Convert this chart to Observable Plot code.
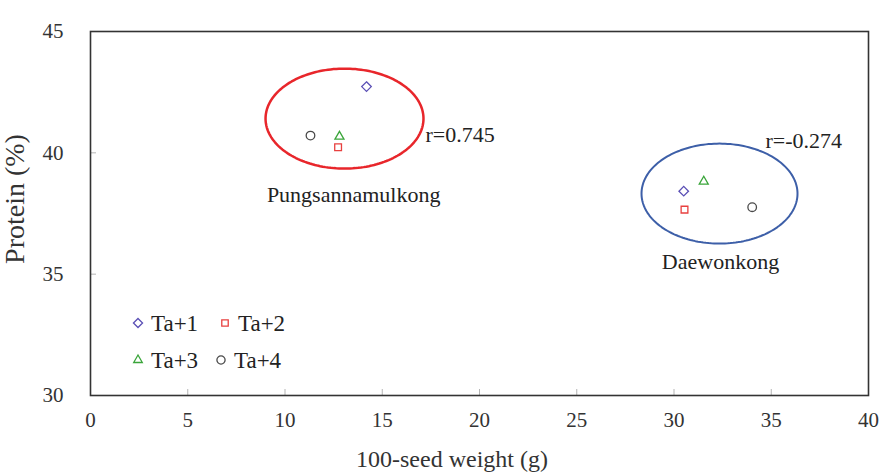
<!DOCTYPE html>
<html>
<head>
<meta charset="utf-8">
<script src="https://cdn.jsdelivr.net/npm/d3@7"></script>
<script src="https://cdn.jsdelivr.net/npm/@observablehq/plot@0.6"></script>
<style>
  html, body { margin: 0; padding: 0; background: #fff; }
  #chart { position: relative; width: 887px; height: 472px; }
</style>
</head>
<body>
<div id="chart"></div>
<script>
// ---- data ----
const series = ["Ta+1", "Ta+2", "Ta+3", "Ta+4"];
const seriesSymbols = ["diamond2", "square2", "triangle2", "circle"];
const seriesColors = ["#5a4fb5", "#e8403f", "#3aa53a", "#4a4a4a"];

const cultivars = ["Pungsannamulkong", "Daewonkong"];
const seedWeight = [
  [14.19, 12.73, 12.80, 11.31],   // Pungsannamulkong
  [30.50, 30.54, 31.53, 34.02]    // Daewonkong
];
const protein = [
  [42.73, 40.23, 40.67, 40.71],
  [38.42, 37.66, 38.82, 37.76]
];

// group ellipses (annotations)
const ellipseCx = [13.06, 32.34];
const ellipseCy = [41.41, 38.32];
const ellipseRx = [4.06, 4.01];
const ellipseRy = [2.06, 2.06];
const ellipseColors = ["#e8262b", "#3d5fa8"];
const ellipseWidths = [2.5, 2];

// annotation labels
const corrText = ["r=0.745", "r=-0.274"];
const corrX = [17.22, 34.70];
const corrY = [40.75, 40.51];
const nameX = [13.53, 32.39];
const nameY = [38.28, 35.52];

const xTicks = [0, 5, 10, 15, 20, 25, 30, 35, 40];
const yTicks = [30, 35, 40, 45];
const xLabel = "100-seed weight (g)";
const yLabel = "Protein (%)";

// ---- build tables ----
const points = [];
cultivars.forEach((c, i) => series.forEach((s, j) => points.push({
  cultivar: c, series: s, x: seedWeight[i][j], y: protein[i][j]
})));

const ellipsePts = [];
cultivars.forEach((c, i) => {
  d3.range(0, 181).forEach(k => {
    const t = (k / 180) * 2 * Math.PI;
    ellipsePts.push({cultivar: c, x: ellipseCx[i] + ellipseRx[i] * Math.cos(t), y: ellipseCy[i] + ellipseRy[i] * Math.sin(t)});
  });
});
const corrLabels = corrText.map((t, i) => ({t, x: corrX[i], y: corrY[i]}));
const nameLabels = cultivars.map((t, i) => ({t, x: nameX[i], y: nameY[i]}));

const font = "'Liberation Serif', 'Times New Roman', serif";
const xDom = [xTicks[0], xTicks[xTicks.length - 1]];
const yDom = [yTicks[0], yTicks[yTicks.length - 1]];

const plot = Plot.plot({
  width: 887,
  height: 472,
  marginLeft: 90,
  marginRight: 19,
  marginTop: 31,
  marginBottom: 77,
  style: {fontFamily: font, fontSize: "21px", color: "#222", background: "#fff"},
  x: {domain: xDom},
  y: {domain: yDom},
  symbol: {domain: series, range: seriesSymbols},
  color: {domain: series, range: seriesColors},
  marks: [
    // inward tick marks
    Plot.ruleX(xTicks.slice(1, -1), {x: d => d, y1: yDom[0], y2: yDom[0], insetTop: -6, stroke: "#b5b5b5", strokeWidth: 1}),
    Plot.ruleY(yTicks.slice(1, -1), {y: d => d, x1: xDom[0], x2: xDom[0], insetRight: -6, stroke: "#b5b5b5", strokeWidth: 1}),
    // tick labels
    Plot.axisX({ticks: xTicks, tickSize: 0, tickPadding: 17, label: null, fill: "#333"}),
    Plot.axisY({ticks: yTicks, tickSize: 0, tickPadding: 27, label: null, fill: "#333"}),
    Plot.frame({stroke: "#333", strokeWidth: 1.6}),
    // ellipses
    Plot.line(ellipsePts, {x: "x", y: "y", z: "cultivar",
      stroke: d => ellipseColors[cultivars.indexOf(d.cultivar)],
      strokeWidth: d => ellipseWidths[cultivars.indexOf(d.cultivar)], curve: "linear"}),
    // points
    Plot.dot(points, {x: "x", y: "y", symbol: "series", stroke: "series", fill: "none", r: 4.3, strokeWidth: 1.3}),
    // annotations
    Plot.text(corrLabels, {x: "x", y: "y", text: "t", textAnchor: "start", fontSize: 22, fill: "#222"}),
    Plot.text(nameLabels, {x: "x", y: "y", text: "t", fontSize: 22, fill: "#222"})
  ]
});
document.getElementById("chart").appendChild(plot);

const svg = d3.select(plot);
// ---- axis titles ----
svg.append("text").attr("x", 452).attr("y", 459).attr("dy", "0.35em")
  .attr("text-anchor", "middle").attr("font-family", font).attr("font-size", 24)
  .attr("fill", "#333").text(xLabel);
svg.append("text").attr("transform", "translate(14,199) rotate(-90)").attr("dy", "0.35em")
  .attr("text-anchor", "middle").attr("font-family", font).attr("font-size", 28)
  .attr("fill", "#333").text(yLabel);

// ---- legend inside the plot area ----
const symMap = {diamond2: d3.symbolDiamond2, square2: d3.symbolSquare2, triangle2: d3.symbolTriangle2, circle: d3.symbolCircle};
const legPos = [[138, 323], [225, 323], [138, 360], [221, 360]];
const leg = svg.append("g").attr("font-family", font).attr("font-size", 23).attr("text-anchor", "start");
series.forEach((s, i) => {
  const [lx, ly] = legPos[i];
  leg.append("path")
    .attr("d", d3.symbol(symMap[seriesSymbols[i]], Math.PI * 4.1 * 4.1)())
    .attr("transform", `translate(${lx},${ly})`)
    .attr("fill", "none").attr("stroke", seriesColors[i]).attr("stroke-width", 1.3);
  leg.append("text").attr("x", lx + 13).attr("y", ly).attr("dy", "0.35em")
    .attr("fill", "#222").text(s);
});
</script>
</body>
</html>
